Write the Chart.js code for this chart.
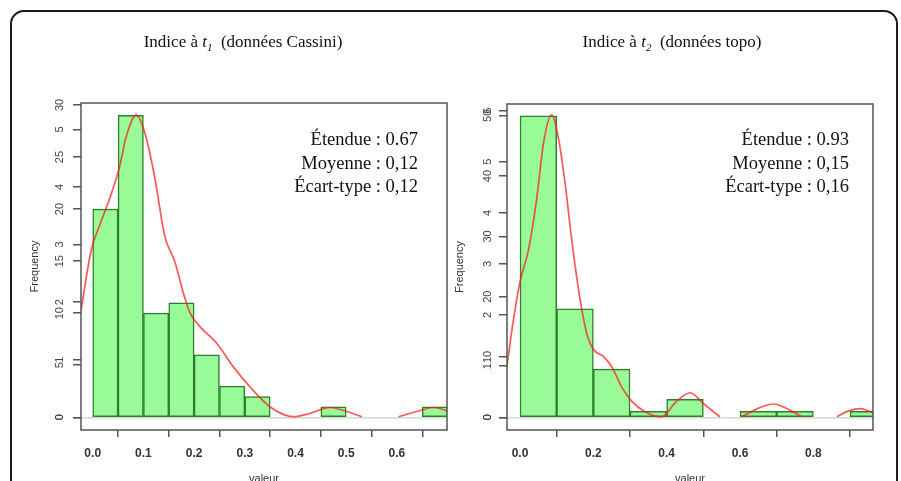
<!DOCTYPE html>
<html lang="fr">
<head>
<meta charset="utf-8">
<script src="https://cdn.jsdelivr.net/npm/chart.js@4/dist/chart.umd.min.js"></script>
<style>
  body { margin: 0; width: 901px; height: 481px; overflow: hidden; background: #fff; position: relative;
         font-family: 'Liberation Serif', 'Times New Roman', serif; color: #111; }
  .cadre { position: absolute; left: 10px; top: 10px; width: 888px; height: 520px; box-sizing: border-box;
           border: 2px solid #1b1b1b; border-radius: 14px; }
  canvas { position: absolute; top: 0; }
  .titre { position: absolute; top: 32px; font-size: 17px; line-height: 20px; white-space: nowrap;
           transform: translateX(-50%); z-index: 2; }
  .titre sub { font-size: 11px; }
  .stats { position: absolute; top: 128px; font-size: 18.5px; line-height: 23.5px; text-align: right;
           white-space: nowrap; z-index: 2; }
</style>
</head>
<body>
<div class="cadre"></div>
<canvas id="histo-t1" width="460" height="481" style="left:0;width:460px;height:481px"></canvas>
<canvas id="histo-t2" width="451" height="481" style="left:450px;width:451px;height:481px"></canvas>

<div class="titre" style="left:243px">Indice à <i>t</i><sub><i>1</i></sub>&nbsp; (données Cassini)</div>
<div class="titre" style="left:672px">Indice à <i>t</i><sub><i>2</i></sub>&nbsp; (données topo)</div>
<div class="stats" style="right:483px">Étendue : 0.67<br>Moyenne : 0,12<br>Écart-type : 0,12</div>
<div class="stats" style="right:52px">Étendue : 0.93<br>Moyenne : 0,15<br>Écart-type : 0,16</div>

<script>
// --- t1 (données Cassini) : classes de 0.05
const binsT1 = [0.025, 0.075, 0.125, 0.175, 0.225, 0.275, 0.325, 0.475, 0.675];
const countsT1 = [20, 29, 10, 11, 6, 3, 2, 1, 1];
// densité (courbe rouge), null = trou dans la courbe
const densXT1 = [-0.023, -0.003, 0.014, 0.037, 0.053, 0.066, 0.086, 0.103, 0.122, 0.142, 0.162, 0.181,
                 0.192, 0.212, 0.245, 0.277, 0.310, 0.350, 0.396, 0.429, 0.468, 0.501, 0.531,
                 0.567, 0.603, 0.639, 0.672, 0.698];
const densYT1 = [1.86, 2.90, 3.34, 3.89, 4.35, 4.87, 5.25, 4.93, 4.18, 3.15, 2.70, 2.09,
                 1.81, 1.57, 1.28, 0.88, 0.53, 0.18, 0.01, 0.07, 0.17, 0.10, 0.01,
                 null, 0.01, 0.10, 0.17, 0.12];
const xTicksT1 = [0, 0.1, 0.2, 0.3, 0.4, 0.5, 0.6];
const freqTicksT1 = [0, 5, 10, 15, 20, 25, 30];
const densTicksT1 = [0, 1, 2, 3, 4, 5];

// --- t2 (données topo) : classes de 0.1
const binsT2 = [0.05, 0.15, 0.25, 0.35, 0.45, 0.65, 0.75, 0.95];
const countsT2 = [50, 18, 8, 1, 3, 1, 1, 1];
const densXT2 = [-0.036, -0.018, 0.0, 0.023, 0.045, 0.064, 0.086, 0.104, 0.123, 0.141, 0.164, 0.182,
                 0.200, 0.227, 0.250, 0.277, 0.305, 0.341, 0.386, 0.427, 0.464, 0.500, 0.545,
                 0.575, 0.605, 0.645, 0.691, 0.736, 0.768, 0.816, 0.864, 0.891, 0.927, 0.962];
const densYT2 = [0.99, 1.90, 2.65, 3.27, 4.25, 5.36, 5.92, 5.49, 4.58, 3.47, 2.30, 1.64,
                 1.33, 1.19, 0.99, 0.60, 0.31, 0.11, 0.01, 0.31, 0.48, 0.27, 0.01,
                 null, 0.01, 0.16, 0.26, 0.14, 0.01, null, 0.01, 0.11, 0.17, 0.09];
const xTicksT2 = [0, 0.2, 0.4, 0.6, 0.8];
const freqTicksT2 = [0, 10, 20, 30, 40, 50];
const densTicksT2 = [0, 1, 2, 3, 4, 5, 6];

const sans = "'Liberation Sans', Arial, sans-serif";

// cadre du graphique (comme box() dans R)
const cadrePlugin = {
  id: 'cadre',
  afterLayout(chart) {
    // l'axe densité a une largeur nulle : on élargit sa zone de clip pour que ses
    // étiquettes se superposent à celles de l'axe des effectifs
    chart.scales.yd.left = chart.scales.y.left;
  },
  afterDatasetsDraw(chart) {
    const { ctx, chartArea: a } = chart;
    ctx.save();
    ctx.strokeStyle = '#555';
    ctx.lineWidth = 1.5;
    ctx.strokeRect(a.left, a.top, a.right - a.left, a.bottom - a.top);
    ctx.restore();
  }
};

function setTicks(values) {
  return scale => { scale.ticks = values.map(v => ({ value: v })); };
}

function histogramme(id, o) {
  return new Chart(document.getElementById(id), {
    type: 'bar',
    data: {
      datasets: [
        {
          type: 'line',
          order: 0,
          yAxisID: 'yd',
          data: o.densX.map((x, i) => ({ x, y: o.densY[i] })),
          borderColor: 'rgba(255, 30, 30, 0.75)',
          borderWidth: 1.7,
          pointRadius: 0,
          cubicInterpolationMode: 'monotone',
          spanGaps: false
        },
        {
          type: 'bar',
          order: 1,
          yAxisID: 'y',
          data: o.bins.map((x, i) => ({ x, y: o.counts[i] })),
          backgroundColor: '#98fb98',
          borderColor: '#2f7f2f',
          borderWidth: 1.5,
          borderSkipped: false,
          barPercentage: 1,
          categoryPercentage: 1,
          clip: 0
        }
      ]
    },
    options: {
      responsive: false,
      animation: false,
      layout: { padding: { top: o.top, right: o.right, left: 0, bottom: 0 } },
      plugins: { legend: { display: false }, tooltip: { enabled: false } },
      scales: {
        x: {
          type: 'linear',
          offset: false,
          min: o.xMin,
          max: o.xMax,
          afterBuildTicks: setTicks(o.xTicks),
          afterFit: s => { s.height = 51; },
          border: { display: false },
          grid: { drawOnChartArea: false, tickLength: 7, tickColor: '#555', lineWidth: 1.5 },
          ticks: { autoSkip: false, maxRotation: 0, padding: 9, color: '#333',
                   font: { family: sans, size: 12, weight: 'bold' },
                   callback: v => v.toFixed(1) },
          title: { display: true, text: 'valeur', color: '#333',
                   font: { family: sans, size: 11, lineHeight: 1.2 },
                   padding: { top: 0, bottom: -4.6 } }
        },
        y: {
          type: 'linear',
          position: 'left',
          weight: 1,
          min: o.fMin,
          max: o.fMax,
          afterBuildTicks: setTicks(o.freqTicks),
          afterFit: s => { s.width = o.yW; },
          border: { display: false },
          grid: { color: c => (c.tick && c.tick.value === 0) ? '#d6d6d6' : 'rgba(0,0,0,0)',
                  tickColor: '#555', tickLength: 8, lineWidth: 1.5 },
          ticks: { autoSkip: false, minRotation: 90, maxRotation: 90, crossAlign: 'center',
                   padding: o.fPad, color: '#444', font: { family: sans, size: 11 } },
          title: { display: true, text: 'Frequency', color: '#333',
                   font: { family: sans, size: 11, lineHeight: 1.2 },
                   padding: { top: o.titlePad, bottom: 0 } }
        },
        yd: {
          type: 'linear',
          position: 'left',
          weight: 0,
          min: o.dMin,
          max: o.dMax,
          afterBuildTicks: setTicks(o.densTicks),
          afterFit: s => { s.width = 0; },
          border: { display: false },
          grid: { drawOnChartArea: false, tickColor: '#555', tickLength: 8, lineWidth: 1.5 },
          ticks: { autoSkip: false, minRotation: 90, maxRotation: 90, crossAlign: 'center',
                   padding: o.dPad, color: '#444', font: { family: sans, size: 11 } }
        }
      }
    },
    plugins: [cadrePlugin]
  });
}

histogramme('histo-t1', {
  bins: binsT1, counts: countsT1, densX: densXT1, densY: densYT1,
  xTicks: xTicksT1, freqTicks: freqTicksT1, densTicks: densTicksT1,
  xMin: -0.0231, xMax: 0.6988, fMin: -1.22, fMax: 30.19, dMin: -0.2205, dMax: 5.457,
  top: 103, right: 13, yW: 81, fPad: 6.9, dPad: 9.9, titlePad: 28.4
});

histogramme('histo-t2', {
  bins: binsT2, counts: countsT2, densX: densXT2, densY: densYT2,
  xTicks: xTicksT2, freqTicks: freqTicksT2, densTicks: densTicksT2,
  xMin: -0.0355, xMax: 0.9627, fMin: -2.106, fMax: 51.96, dMin: -0.249, dMax: 6.13,
  top: 104, right: 28, yW: 57, fPad: 5.4, dPad: 8.4, titlePad: 3.4
});
</script>
</body>
</html>
